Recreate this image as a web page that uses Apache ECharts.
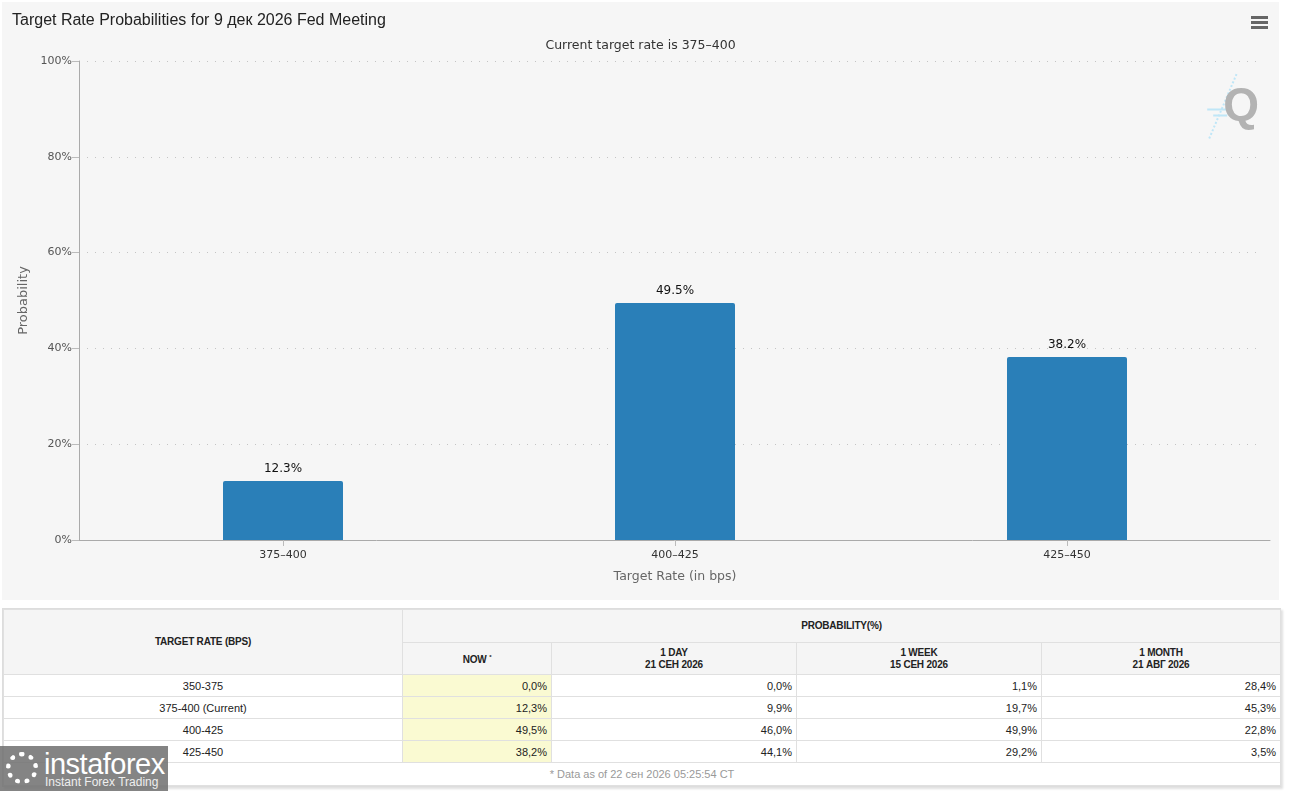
<!DOCTYPE html>
<html>
<head>
<meta charset="utf-8">
<script src="https://cdn.jsdelivr.net/npm/echarts@6/dist/echarts.min.js"></script>
<style>
  html,body{margin:0;padding:0;background:#fff;width:1289px;height:791px;overflow:hidden;font-family:"Liberation Sans",Arial,sans-serif;}
  #chart{position:absolute;left:2px;top:2px;width:1277px;height:598px;background:#f6f6f6;border-radius:4px;}
  #tbl{position:absolute;left:2px;top:608px;width:1277px;border:1px solid #ddd;box-shadow:2px 2px 2px rgba(0,0,0,0.12);background:#fff;}
  table{border-collapse:collapse;width:100%;table-layout:fixed;font-family:"Liberation Sans",Arial,sans-serif;}
  td,th{border:1px solid #e0e0e0;padding:0 4px;font-size:11px;color:#222;}
  th{background:#f5f5f5;font-size:10px;font-weight:bold;text-align:center;line-height:12px;letter-spacing:-0.2px;}
  td.c{text-align:center;}
  td.r{text-align:right;padding-right:4px;}
  td.now{background:#fafad2;}
  tr.d td{height:21px;}
  td.foot{text-align:center;color:#999;font-size:11px;height:22px;}
  #wm{position:absolute;left:0;top:746px;width:168px;height:45px;background:rgba(110,110,110,0.85);color:#fff;font-family:"Liberation Sans",Arial,sans-serif;}
  #wm .big{position:absolute;left:44px;top:2px;font-size:29px;letter-spacing:-0.5px;line-height:32px;}
  #wm .small{position:absolute;left:45px;top:30px;font-size:12px;line-height:13px;color:#eee;}
  #wm .gear{position:absolute;left:6px;top:6px;width:32px;height:32px;border-radius:50%;border:5px dotted #fff;box-sizing:border-box;}
</style>
</head>
<body>
<div id="chart"></div>
<div id="tbl"></div>
<div id="wm"><div class="gear"></div><div class="big">instaforex</div><div class="small">Instant Forex Trading</div></div>
<script>
// ---- chart data ----
var categories = ["375–400", "400–425", "425–450"];
var probabilities = [12.3, 49.5, 38.2];
var yTicks = [0, 20, 40, 60, 80, 100];

// ---- table data ----
var tableRates = ["350-375", "375-400 (Current)", "400-425", "425-450"];
var colNow = ["0,0%", "12,3%", "49,5%", "38,2%"];
var col1Day = ["0,0%", "9,9%", "46,0%", "44,1%"];
var col1Week = ["1,1%", "19,7%", "49,9%", "29,2%"];
var col1Month = ["28,4%", "45,3%", "22,8%", "3,5%"];
var colHeaders = ["NOW", "1 DAY<br>21 СЕН 2026", "1 WEEK<br>15 СЕН 2026", "1 MONTH<br>21 АВГ 2026"];

var chart = echarts.init(document.getElementById('chart'));
var font = '"DejaVu Sans", Verdana, sans-serif';
chart.setOption({
  backgroundColor: '#f6f6f6',
  animation: false,
  title: [{
    text: 'Target Rate Probabilities for 9 дек 2026 Fed Meeting',
    left: 5, top: 6,
    textStyle: {fontFamily: '"Liberation Sans", Arial, sans-serif', fontSize: 16, fontWeight: 'normal', color: '#222'}
  }, {
    text: 'Current target rate is 375–400',
    left: 'center', top: 32,
    textStyle: {fontFamily: font, fontSize: 12.5, fontWeight: 'normal', color: '#333'}
  }],
  grid: [
    {left: 85, right: 16, top: 59, bottom: 60},
    {left: 77, right: 9, top: 59, bottom: 60}
  ],
  xAxis: [{
    type: 'category', data: categories, gridIndex: 0,
    axisLine: {show: false},
    axisTick: {show: true, alignWithLabel: true, length: 6, lineStyle: {color: '#bbb'}},
    axisLabel: {fontFamily: font, fontSize: 11, color: '#333', margin: 10},
    name: 'Target Rate (in bps)', nameLocation: 'middle', nameGap: 30,
    nameTextStyle: {fontFamily: font, fontSize: 12.5, color: '#666'}
  }, {
    type: 'value', gridIndex: 1, min: 0, max: 1,
    axisLine: {show: true, onZero: false, lineStyle: {color: '#aaa'}},
    axisTick: {show: false}, axisLabel: {show: false}, splitLine: {show: false}
  }],
  yAxis: [{
    type: 'value', gridIndex: 0, min: yTicks[0], max: yTicks[yTicks.length - 1], interval: 20,
    offset: 8,
    axisLine: {show: true, lineStyle: {color: '#aaa'}},
    axisTick: {show: true, length: 7, lineStyle: {color: '#bbb'}},
    axisLabel: {fontFamily: font, fontSize: 11, color: '#555', formatter: '{value}%', margin: 7},
    splitLine: {show: true, lineStyle: {color: '#c4c4c4', type: [1, 7], width: 1}},
    name: 'Probability', nameLocation: 'middle', nameGap: 47, nameRotate: 90,
    nameTextStyle: {fontFamily: font, fontSize: 13, color: '#666'}
  }, {
    type: 'value', gridIndex: 1, show: false
  }],
  series: [{
    type: 'bar', xAxisIndex: 0, yAxisIndex: 0,
    data: probabilities,
    barWidth: 120,
    itemStyle: {color: '#2a7fb8', borderRadius: [2, 2, 0, 0]},
    label: {
      show: true, position: 'top', distance: 6,
      formatter: function (p) { return p.value.toFixed(1) + '%'; },
      fontFamily: font, fontSize: 12, color: '#111'
    }
  }],
  graphic: [
    {type: 'group', right: 11, top: 14, children: [
      {type: 'rect', shape: {x: 0, y: 0, width: 17, height: 3}, style: {fill: '#666'}},
      {type: 'rect', shape: {x: 0, y: 5, width: 17, height: 3}, style: {fill: '#666'}},
      {type: 'rect', shape: {x: 0, y: 10, width: 17, height: 3}, style: {fill: '#666'}}
    ]},
    {type: 'group', right: 20, top: 68, children: [
      {type: 'line', shape: {x1: 2, y1: 66, x2: 30, y2: 0}, style: {stroke: '#bfe6f7', lineWidth: 2, lineDash: [2, 2]}},
      {type: 'rect', shape: {x: 0, y: 36, width: 20, height: 2}, style: {fill: '#bfe6f7'}},
      {type: 'rect', shape: {x: 6, y: 42, width: 14, height: 2}, style: {fill: '#bfe6f7'}},
      {type: 'text', x: 16, y: 12, style: {text: 'Q', font: 'bold 46px "Liberation Sans", Arial, sans-serif', fill: '#b3b3b3'}}
    ]}
  ]
});

// ---- table ----
var h = '<table><colgroup><col style="width:399px"><col style="width:149px"><col style="width:245px"><col style="width:245px"><col style="width:239px"></colgroup>';
h += '<tr><th rowspan="2" style="height:64px">TARGET RATE (BPS)</th><th colspan="4" style="height:32px">PROBABILITY(%)</th></tr>';
h += '<tr>';
for (var i = 0; i < colHeaders.length; i++) {
  h += '<th style="height:31px">' + colHeaders[i] + (i === 0 ? ' <sup style="font-size:6px">*</sup>' : '') + '</th>';
}
h += '</tr>';
for (var r = 0; r < tableRates.length; r++) {
  h += '<tr class="d"><td class="c">' + tableRates[r] + '</td><td class="r now">' + colNow[r] + '</td><td class="r">' + col1Day[r] +
       '</td><td class="r">' + col1Week[r] + '</td><td class="r">' + col1Month[r] + '</td></tr>';
}
h += '<tr><td colspan="5" class="foot">* Data as of 22 сен 2026 05:25:54 CT</td></tr></table>';
document.getElementById('tbl').innerHTML = h;
</script>
</body>
</html>
